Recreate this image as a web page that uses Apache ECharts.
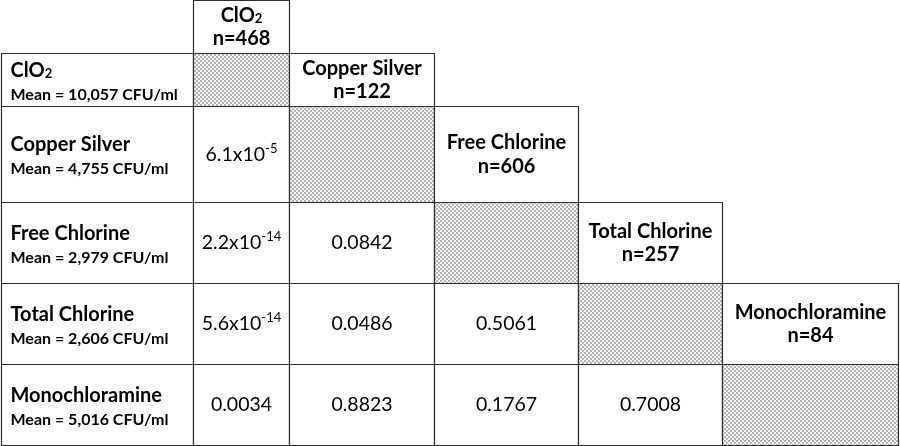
<!DOCTYPE html>
<html><head><meta charset="utf-8">
<script src="https://cdn.jsdelivr.net/npm/echarts@6/dist/echarts.min.js"></script>
<style>html,body{margin:0;padding:0;background:#fff}#c{width:900px;height:446px}</style>
</head><body><div id="c"></div>
<script>
// ---- data ----
const treatments = ['ClO2', 'Copper Silver', 'Free Chlorine', 'Total Chlorine', 'Monochloramine'];
const sampleSizes = [468, 122, 606, 257, 84];
const meanCFU = [10057, 4755, 2979, 2606, 5016];
// lower-triangle p-values: row i vs columns 0..i-1
const pRow1 = [6.1e-5];
const pRow2 = [2.2e-14, 0.0842];
const pRow3 = [5.6e-14, 0.0486, 0.5061];
const pRow4 = [0.0034, 0.8823, 0.1767, 0.7008];
const pValues = [[], pRow1, pRow2, pRow3, pRow4];

// ---- layout ----
const colEdges = [1, 193, 289, 434, 578, 722, 898];
const rowEdges = [0, 53, 106, 202, 283, 364, 445];
const FAM = 'Lato';
const SZ = { name: 20, mean: 16, value: 19.5, head: 20, sup: 13, sub: 13 };

function nameRich(n) { return n === 'ClO2' ? 'ClO{sub|2}' : n; }
function fmtP(p) {
  if (p < 0.001) {
    const parts = p.toExponential(1).split('e');
    return parts[0] + 'x10{sup|' + (+parts[1]) + '}';
  }
  return p.toFixed(4);
}

const cells = [];
cells.push({ col: 1, row: 0, kind: 'header', t: 0 });
for (let r = 1; r <= treatments.length; r++) {
  const t = r - 1;
  cells.push({ col: 0, row: r, kind: 'label', t: t });
  for (let c = 1; c < r; c++) cells.push({ col: c, row: r, kind: 'value', p: pValues[t][c - 1] });
  cells.push({ col: r, row: r, kind: 'gray' });
  if (r < treatments.length) cells.push({ col: r + 1, row: r, kind: 'header', t: r });
}

// hatch pattern (checkerboard of 2x2 blocks)
const pc = document.createElement('canvas');
pc.width = 4; pc.height = 4;
const g = pc.getContext('2d');
g.fillStyle = '#f4f4f4'; g.fillRect(0, 0, 4, 4);
g.fillStyle = '#b4b4b4'; g.fillRect(0, 0, 2, 2); g.fillRect(2, 2, 2, 2);
const hatch = { image: pc, repeat: 'repeat' };

const subRich = { sub: { fontSize: SZ.sub, fontFamily: FAM, fontWeight: 'bold', verticalAlign: 'bottom' } };
const supRich = { sup: { fontSize: SZ.sup, fontFamily: FAM, fontWeight: 'normal', verticalAlign: 'top' } };

function txt(text, x, y, size, weight, align, rich, lh) {
  const st = { text: text, x: x, y: y, fontSize: size, fontFamily: FAM, fontWeight: weight,
    fill: '#000', align: align, verticalAlign: 'middle' };
  if (rich) st.rich = rich;
  if (lh) st.lineHeight = lh;
  return { type: 'text', style: st };
}

function renderItem(params, api) {
  const cell = cells[params.dataIndex];
  const c = api.value(0), r = api.value(1);
  const a = api.coord([colEdges[c], rowEdges[r]]);
  const b = api.coord([colEdges[c + 1], rowEdges[r + 1]]);
  const x = Math.round(Math.min(a[0], b[0])) + 0.5, y = Math.round(Math.min(a[1], b[1])) + 0.5;
  const w = Math.round(Math.abs(b[0] - a[0])), h = Math.round(Math.abs(b[1] - a[1]));
  const cx = x + w / 2, cy = y + h / 2;
  const children = [{ type: 'rect', shape: { x: x, y: y, width: w, height: h },
    style: { fill: cell.kind === 'gray' ? hatch : '#fff', stroke: '#2e2e2e', lineWidth: 1.2 } }];
  if (cell.kind === 'header') {
    children.push(txt(nameRich(treatments[cell.t]), cx, cy - 11.5, SZ.head, 'bold', 'center', subRich));
    children.push(txt('n=' + sampleSizes[cell.t], cx, cy + 12, SZ.head, 'bold', 'center'));
  } else if (cell.kind === 'label') {
    children.push(txt(nameRich(treatments[cell.t]), x + 9, cy - 9.5, SZ.name, 'bold', 'left', subRich));
    children.push(txt('Mean = ' + meanCFU[cell.t].toLocaleString('en-US') + ' CFU/ml', x + 9, cy + 14.5, SZ.mean, 'bold', 'left'));
  } else if (cell.kind === 'value') {
    children.push(txt(fmtP(cell.p), cx, cy, SZ.value, 'normal', 'center', supRich, 25));
  }
  return { type: 'group', children: children };
}

const chart = echarts.init(document.getElementById('c'), null, { renderer: 'canvas' });
chart.setOption({
  animation: false,
  grid: { left: 0, right: 0, top: 0, bottom: 0 },
  xAxis: { type: 'value', min: 0, max: 900, show: false },
  yAxis: { type: 'value', min: 0, max: 446, inverse: true, show: false },
  series: [{
    type: 'custom',
    renderItem: renderItem,
    data: cells.map(function (d) { return [d.col, d.row]; }),
    clip: false
  }]
});
</script></body></html>
